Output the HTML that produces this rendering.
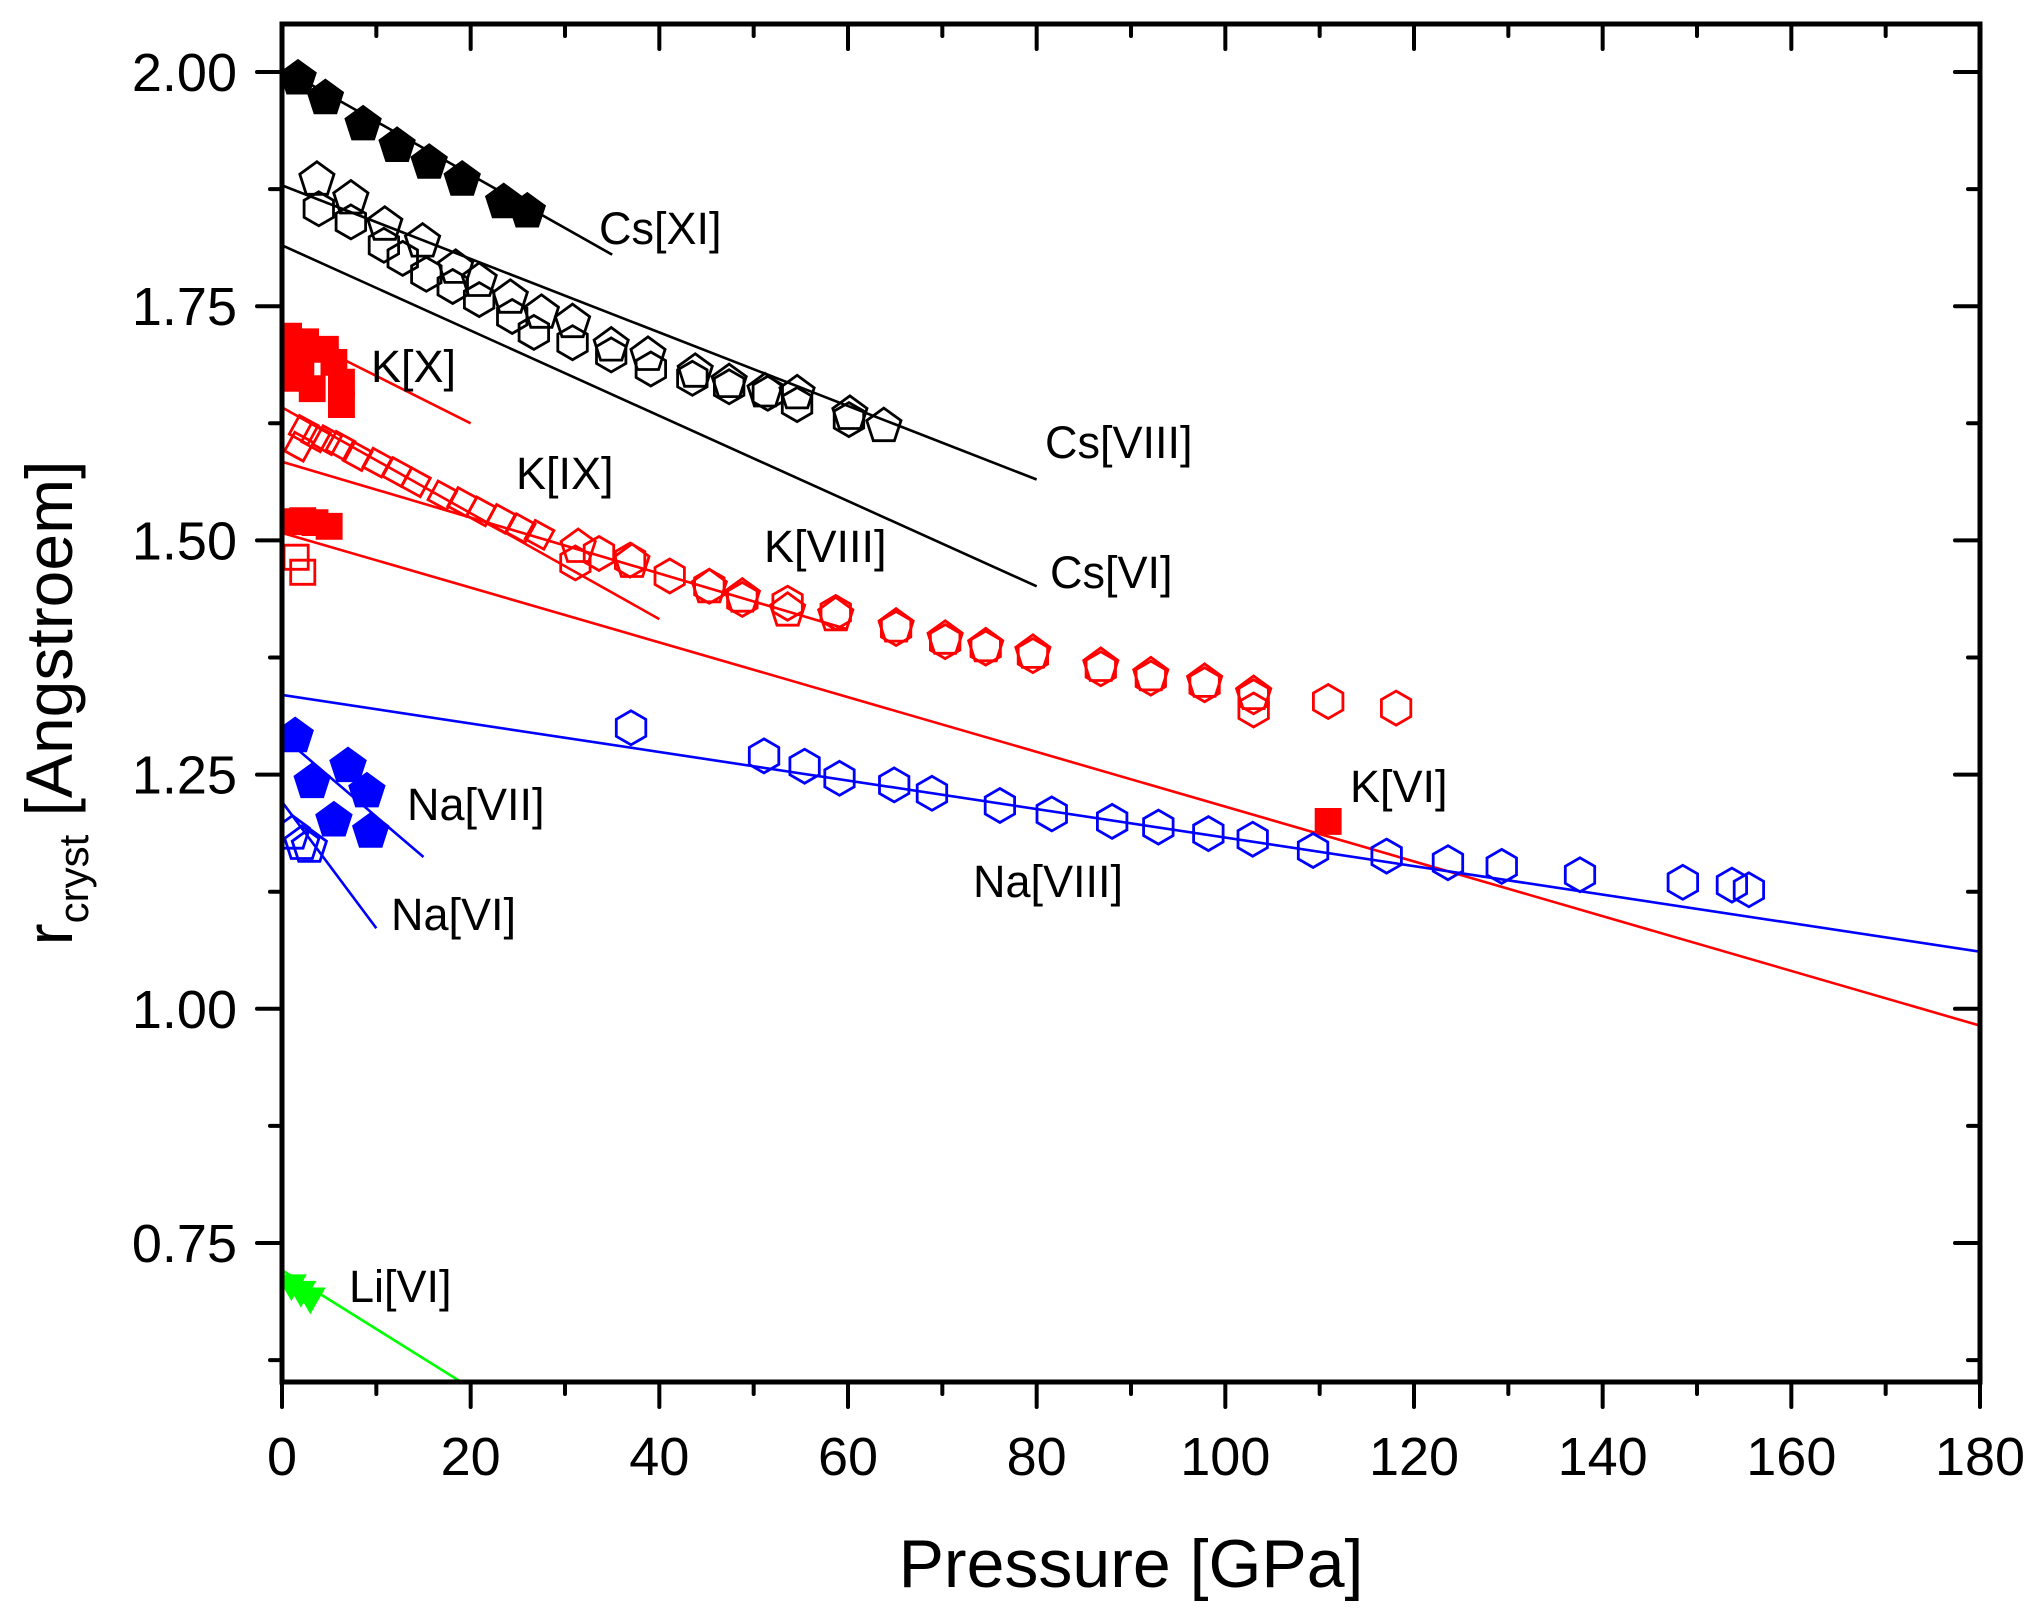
<!DOCTYPE html>
<html><head><meta charset="utf-8"><style>
html,body{margin:0;padding:0;background:#fff;}
svg{display:block;}
text{font-family:"Liberation Sans",sans-serif;}
</style></head><body>
<svg id="chart" width="2043" height="1618" viewBox="0 0 2043 1618" xmlns="http://www.w3.org/2000/svg">
<g id="marks"></g>
<g id="axes"></g>
<g id="labels"></g>
</svg>
<script>
const xTicks = [0,20,40,60,80,100,120,140,160,180];
const yTicks = [0.75,1.00,1.25,1.50,1.75,2.00];
const yTickLabels = ["0.75","1.00","1.25","1.50","1.75","2.00"];

const csXI_x = [1.7,4.6,8.6,12.2,15.6,19.1,23.5,26.0];
const csXI_y = [1.993,1.972,1.944,1.921,1.903,1.885,1.861,1.851];
const csVIII_x = [3.7,7.3,10.9,14.9,18.4,20.9,24.2,27.5,30.8,34.9,38.8,43.8,47.4,51.2,54.6,60.2,63.8];
const csVIII_y = [1.885,1.865,1.837,1.819,1.791,1.777,1.759,1.743,1.733,1.708,1.698,1.680,1.669,1.659,1.657,1.635,1.622];
const csVI_x = [3.9,7.3,10.8,12.8,15.3,18.1,20.9,24.4,26.7,30.8,34.9,39.1,43.5,47.4,51.5,54.6,60.1];
const csVI_y = [1.854,1.840,1.815,1.801,1.784,1.771,1.757,1.739,1.722,1.711,1.698,1.683,1.673,1.664,1.657,1.645,1.629];
const kX_x = [0.7,2.5,4.6,6.3,1.1,3.2,6.3,0.5,2.0,5.5,1.5];
const kX_y = [1.718,1.712,1.704,1.669,1.673,1.662,1.645,1.700,1.690,1.690,1.705];
const kIX_x = [1.8,2.3,3.6,4.8,6.2,8.0,10.1,12.2,14.2,17.0,19.1,21.1,23.2,25.3,27.3];
const kIX_y = [1.600,1.618,1.610,1.607,1.601,1.590,1.583,1.573,1.562,1.548,1.541,1.531,1.523,1.513,1.506];
const kVIII_x = [31.1,33.6,36.9,41.1,45.3,48.8,53.6,58.7,65.1,70.3,74.6,79.6,86.8,92.1,97.8,103.0,103.0,110.9,118.1];
const kVIII_y = [1.476,1.486,1.479,1.462,1.451,1.437,1.433,1.423,1.406,1.392,1.385,1.377,1.363,1.353,1.346,1.333,1.319,1.328,1.321];
const kVIIIp_x = [31.4,37.1,45.3,48.8,53.6,58.7,65.1,70.3,74.6,79.6,86.8,92.1,97.8,103.0];
const kVIIIp_y = [1.493,1.477,1.450,1.440,1.425,1.420,1.408,1.395,1.387,1.380,1.366,1.356,1.349,1.336];
const kVI_x = [1.0,2.2,3.5,5.0,110.9];
const kVI_y = [1.520,1.521,1.519,1.515,1.200];
const kVIo_x = [1.5,2.2];
const kVIo_y = [1.482,1.466];
const naVIII_x = [37.0,51.1,55.4,59.1,64.9,68.9,76.1,81.6,88.0,92.9,98.2,102.9,109.3,117.1,123.6,129.3,137.6,148.5,153.7,155.5];
const naVIII_y = [1.300,1.270,1.259,1.246,1.239,1.230,1.217,1.208,1.200,1.194,1.187,1.181,1.169,1.163,1.156,1.152,1.143,1.135,1.132,1.127];
const naVII_x = [1.4,3.2,5.5,7.0,9.0,9.4];
const naVII_y = [1.291,1.242,1.201,1.259,1.232,1.189];
const naVI_x = [1.1,2.1,2.9];
const naVI_y = [1.187,1.176,1.173];
const liVI_x = [1.0,2.0,3.0];
const liVI_y = [0.707,0.700,0.693];

const fitNames = ["cs-xi","cs-viii","cs-vi","k-x","k-ix","k-viii","k-vi","na-viii","na-vii","na-vi","li-vi"];
const fitX0 = [0,0,0,0,0,0,0,0,0,0,0];
const fitY0 = [2.004,1.879,1.815,1.726,1.642,1.584,1.508,1.335,1.291,1.221,0.721];
const fitX1 = [35,80,80,20,40,60,180,180,15,10,19.1];
const fitY1 = [1.805,1.565,1.451,1.625,1.416,1.405,0.982,1.061,1.162,1.086,0.601];
const fitColors = ["#000","#000","#000","#f00","#f00","#f00","#f00","#00f","#00f","#00f","#0f0"];

const L=282,R=1980,T=24,B=1382;
const xs = v => L + (v-0)/(180-0)*(R-L);
const ys = v => 72 + (2.00-v)/(2.00-0.75)*(1243-72);
const NS="http://www.w3.org/2000/svg";
function mk(tag, attrs, parent){const e=document.createElementNS(NS,tag);for(const k in attrs)e.setAttribute(k,attrs[k]);parent.appendChild(e);return e;}
const marks=document.getElementById('marks'), axes=document.getElementById('axes'), labels=document.getElementById('labels');

const clip = mk('clipPath',{id:'pc'},mk('defs',{},document.getElementById('chart')));
mk('rect',{x:L,y:T,width:R-L,height:B-T},clip);
marks.setAttribute('clip-path','url(#pc)');

function poly(n, cx, cy, r, rot){let p=[];for(let i=0;i<n;i++){const a=rot+i*2*Math.PI/n;p.push((cx+r*Math.cos(a)).toFixed(1)+','+(cy+r*Math.sin(a)).toFixed(1));}return p.join(' ');}

for(let i=0;i<fitNames.length;i++){
  const ln=mk('line',{x1:xs(fitX0[i]),y1:ys(fitY0[i]),x2:xs(fitX1[i]),y2:ys(fitY1[i]),stroke:fitColors[i],'stroke-width':2.6},marks);
  
  
}
function series(name, xa, ya, shape, color, filled){
  const g=mk('g',{},marks);
  
  
  for(let i=0;i<xa.length;i++){
    const cx=xs(xa[i]), cy=ys(ya[i]);
    let pts;
    if(shape==='pent') pts=poly(5,cx,cy,18,-Math.PI/2);
    else if(shape==='hex') pts=poly(6,cx,cy,17,-Math.PI/2);
    else if(shape==='sq') pts=poly(4,cx,cy,17,Math.PI/4);
    else if(shape==='sqr') pts=poly(4,cx,cy,15,Math.PI/4+0.5);
    else pts=poly(3,cx,cy,15,Math.PI/2);
    const p=mk('polygon',{points:pts,fill:filled?color:'none',stroke:color,'stroke-width':2.8},g);
    
    
  }
}
series('cs-xi',csXI_x,csXI_y,'pent','#000',true);
series('cs-viii',csVIII_x,csVIII_y,'pent','#000',false);
series('cs-vi',csVI_x,csVI_y,'hex','#000',false);
series('k-x',kX_x,kX_y,'sq','#f00',true);
series('k-ix',kIX_x,kIX_y,'sqr','#f00',false);
series('k-viii-pent',kVIIIp_x,kVIIIp_y,'pent','#f00',false);
series('k-viii',kVIII_x,kVIII_y,'hex','#f00',false);
series('k-vi',kVI_x,kVI_y,'sq','#f00',true);
series('k-vi-open',kVIo_x,kVIo_y,'sq','#f00',false);
series('na-viii',naVIII_x,naVIII_y,'hex','#00f',false);
series('na-vii',naVII_x,naVII_y,'pent','#00f',true);
series('na-vi',naVI_x,naVI_y,'pent','#00f',false);
series('li-vi',liVI_x,liVI_y,'tri','#0f0',true);

const fr=mk('rect',{x:L,y:T,width:R-L,height:B-T,fill:'none',stroke:'#000','stroke-width':5},axes);


for(let v=0; v<=180; v+=10){
  const x=xs(v), major=(v%20===0);
  mk('line',{x1:x,y1:B,x2:x,y2:B+(major?25:12),stroke:'#000','stroke-width':4,'stroke-linecap':'round'},axes);
  mk('line',{x1:x,y1:T,x2:x,y2:T+(major?25:12),stroke:'#000','stroke-width':4,'stroke-linecap':'round'},axes);
}
xTicks.forEach(v=>{
  const t=mk('text',{x:xs(v),y:1475,'font-size':54,'text-anchor':'middle'},axes);
  t.textContent=String(v);
  
  
});
for(let k=0;k<=11;k++){
  const v=0.625+k*0.125; const y=ys(v); if(y>B||y<T) continue;
  const major=(k%2===1);
  mk('line',{x1:L,y1:y,x2:L-(major?25:12),y2:y,stroke:'#000','stroke-width':4,'stroke-linecap':'round'},axes);
  mk('line',{x1:R,y1:y,x2:R-(major?25:12),y2:y,stroke:'#000','stroke-width':4,'stroke-linecap':'round'},axes);
}
yTicks.forEach((v,i)=>{
  const t=mk('text',{x:237,y:ys(v)+19,'font-size':54,'text-anchor':'end'},axes);
  t.textContent=yTickLabels[i];
  
  
});
</script>
<svg style="position:absolute;left:0;top:0" width="2043" height="1618" xmlns="http://www.w3.org/2000/svg">
<text x="1131" y="1587" font-size="68" text-anchor="middle" font-family="Liberation Sans">Pressure [GPa]</text>
<g transform="translate(72,703) rotate(-90)">
<text x="0" y="0" font-size="66" text-anchor="middle" font-family="Liberation Sans">r<tspan font-size="42" dy="16">cryst</tspan><tspan dy="-16"> [Angstroem]</tspan></text>
</g>
<g font-size="45" font-family="Liberation Sans">
<text x="599" y="244">Cs[XI]</text>
<text x="1045" y="458">Cs[VIII]</text>
<text x="1050" y="588">Cs[VI]</text>
<text x="371" y="382">K[X]</text>
<text x="516" y="489">K[IX]</text>
<text x="764" y="562">K[VIII]</text>
<text x="1350" y="802">K[VI]</text>
<text x="407" y="820">Na[VII]</text>
<text x="391" y="930">Na[VI]</text>
<text x="973" y="897">Na[VIII]</text>
<text x="349" y="1302">Li[VI]</text>
</g>
</svg>
</body></html>
